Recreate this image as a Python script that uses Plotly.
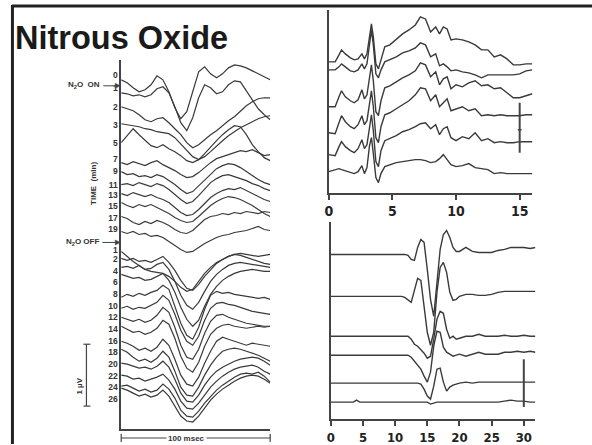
import plotly.graph_objects as go

# ---------------- DATA ----------------
# Left panel: cortical evoked potentials, 0-100 msec, amplitudes (arb. units, 1 uV ~ 62)
left_time = [0, 4, 8, 12, 16, 20, 24, 28, 32, 36, 40, 44, 48, 52, 56, 60, 64, 68, 72, 76, 80, 84, 88, 92, 96, 100]
left_labels = ["0", "1", "2", "3", "5", "7", "9", "11", "13", "15", "17", "19",
               "1", "2", "4", "6", "8", "10", "12", "14", "16", "18", "20", "22", "24", "26"]

on_0 = [0, -3, -8, -12, -10, -5, 4, 0, -12, -28, -39, -32, -12, 8, 13, 6, 2, 6, 12, 15, 14, 12, 9, 6, 3, 0]
on_1 = [0, -1, -3, -2, -4, -2, 4, 6, 0, -14, -30, -38, -25, -5, 8, 5, -1, 1, 8, 12, 11, 2, -8, -16, -22, -27]
on_2 = [0, -2, -4, -8, -13, -15, -12, -11, -16, -22, -28, -36, -41, -38, -33, -28, -24, -19, -14, -10, -4, 1, 5, 8, 9, 9]
on_3 = [0, -1, -2, -3, -5, -6, -8, -9, -10, -14, -20, -27, -33, -36, -33, -28, -22, -17, -12, -8, -4, -1, 2, 5, 7, 8]
on_5 = [0, 7, 14, 8, 2, -3, -5, -2, -6, -9, -13, -18, -20, -17, -11, -4, 2, 8, 13, 17, 16, 8, -2, -9, -15, -18]
on_7 = [0, -2, 1, -1, -3, 0, 2, -2, -5, -8, -12, -15, -14, -10, -5, 0, 4, 6, 8, 10, 12, 11, 13, 10, 7, 8]
on_9 = [0, -3, -2, -5, -4, -6, -3, -5, -9, -13, -18, -22, -20, -14, -8, -2, 3, 6, 8, 7, 4, 0, -4, -8, -11, -13]
on_11 = [0, 1, -1, 2, 0, -2, 1, -1, -5, -10, -15, -19, -17, -11, -4, 2, 6, 9, 10, 8, 6, 4, 1, -1, -4, -6]
on_13 = [0, -2, 1, -1, -3, -1, -4, -6, -9, -14, -19, -22, -21, -16, -10, -4, 0, 3, 5, 4, 6, 3, 0, -3, -6, -8]
on_15 = [0, -3, -5, -2, -4, -2, -5, -8, -11, -15, -18, -20, -19, -14, -8, -3, 1, 4, 6, 5, 3, 0, -3, -7, -11, -14]
on_17 = [0, -2, -6, -8, -5, -7, -4, -6, -9, -13, -16, -17, -14, -8, -3, 0, 1, 3, 2, 4, 3, 5, 4, 3, 5, 4]
on_19 = [0, -2, 0, -3, -2, -5, -4, -6, -10, -14, -18, -21, -20, -16, -12, -9, -6, -4, -3, -1, 0, 1, 3, 5, 2, 1]

off_1 = [0, -5, -10, -14, -18, -20, -21, -22, -25, -30, -36, -40, -38, -30, -22, -16, -11, -8, -5, -3, -2, -3, -4, -5, -4, -3]
off_2 = [0, -2, 0, -3, -2, -4, -1, 2, -4, -12, -22, -30, -32, -26, -18, -11, -5, -1, 2, 4, 3, 1, -1, -3, -5, -6]
off_4 = [0, 1, -1, 2, -2, -1, 3, 5, -2, -14, -28, -38, -42, -35, -24, -14, -7, -2, 2, 4, 5, 4, 3, 2, 1, 0]
off_6 = [0, -2, -4, -3, -6, -5, -2, 1, -6, -18, -33, -45, -52, -46, -32, -20, -12, -6, -2, 1, 3, 4, 5, 4, 3, 3]
off_8 = [0, 3, 1, 4, 2, 5, 7, 12, 8, -8, -26, -38, -42, -30, -12, 2, 6, 4, 5, 3, 2, 1, 0, -1, 0, -2]
off_10 = [0, 2, -1, 1, 0, 3, 6, 13, 8, -6, -22, -33, -37, -28, -12, 0, 5, 6, 4, 3, 1, -1, -3, -4, -5, -6]
off_12 = [0, -2, -4, -2, -5, -3, 2, 10, 5, -10, -28, -40, -42, -32, -16, -4, 2, 3, 0, -2, -4, -6, -7, -8, -9, -9]
off_14 = [0, -3, -6, -5, -8, -6, -2, 6, 2, -12, -30, -42, -46, -36, -20, -8, -2, 1, 2, 0, -1, -2, -1, 0, -1, 0]
off_16 = [0, -2, -5, -9, -7, -10, -6, 2, -4, -18, -34, -43, -45, -36, -22, -10, 0, 4, 2, 0, -2, -4, -2, -3, -4, -5]
off_18 = [0, -3, -8, -12, -10, -13, -9, -2, -8, -22, -38, -46, -47, -38, -26, -16, -8, -2, 0, 1, 0, -2, -4, -6, -9, -12]
off_20 = [0, -1, -3, -5, -4, -6, -3, 2, -4, -16, -30, -38, -39, -32, -22, -14, -8, -4, -1, 2, 4, 5, 6, 5, 2, -2]
off_22 = [0, -1, -4, -3, -6, -4, -2, 1, -5, -14, -26, -33, -34, -28, -20, -12, -6, -1, 3, 6, 8, 9, 10, 8, 4, 1]
off_24 = [0, 1, -2, -5, -3, -6, -4, 2, -3, -12, -24, -30, -31, -25, -17, -10, -4, 1, 5, 9, 12, 13, 12, 14, 10, 4]
off_26 = [0, -2, -5, -8, -6, -9, -7, -2, -8, -18, -28, -33, -34, -28, -20, -12, -6, -1, 3, 7, 10, 12, 13, 12, 9, 5]

# stacking offsets of each sweep (same units)
left_offsets = [350, 337, 323, 306, 287, 267, 258, 245, 236, 227, 213, 198,
                178, 171, 162, 155, 132, 121, 112, 103, 88, 80, 66, 54, 43, 41]
left_label_pos = [355, 342, 323, 305, 287, 271, 259, 245, 235, 224, 211, 200,
                  179, 170, 158, 147, 135, 123, 112, 100, 88, 77, 65, 53, 42, 30]

# Top right: brainstem responses, 0-16 msec
tr_time = [0, 0.5, 0.8, 1.0, 1.3, 1.7, 2.0, 2.3, 2.6, 2.8, 3.0, 3.2, 3.35, 3.5, 3.7, 3.9, 4.1, 4.4, 4.8,
           5.3, 5.8, 6.3, 6.8, 7.2, 7.6, 8.0, 8.4, 8.7, 9.0, 9.3, 9.6, 10.0, 10.5, 11.0, 11.5, 12.0,
           12.5, 13.0, 13.5, 14.0, 14.5, 15.0, 15.5, 16.0]
tr_a = [0, 0, 7, 12, 8, 4, 2, 3, 8, 3, 8, 28, 38, 25, -2, -7, 3, 15, 17, 23, 28, 32, 37, 45, 43, 30, 35, 28, 35, 33, 22, 23, 22, 20, 17, 12, 12, 5, 7, 3, -3, -3, -2, -2]
tr_b = [0, 0, 3, 6, 3, -1, -2, 0, 6, 1, 6, 28, 40, 25, -4, -8, 0, 8, 10, 13, 17, 19, 22, 27, 25, 13, 16, 4, 6, 3, -1, 0, -2, -3, -5, -8, -5, -5, -5, -5, -5, -4, -1, 0]
tr_c = [0, 0, 10, 16, 10, 6, 4, 7, 17, 8, 12, 32, 42, 26, -5, -9, 6, 19, 21, 25, 29, 32, 36, 44, 42, 30, 35, 22, 28, 30, 18, 22, 20, 24, 26, 21, 22, 18, 19, 14, 9, 9, 11, 13]
tr_d = [0, -1, 10, 17, 11, 6, 4, 8, 17, 8, 12, 32, 42, 26, -5, -10, 6, 18, 20, 24, 28, 32, 38, 45, 44, 32, 38, 26, 30, 34, 22, 24, 26, 22, 24, 17, 18, 17, 18, 17, 17, 17, 18, 18]
tr_e = [0, -1, 8, 13, 8, 4, 2, 6, 15, 6, 10, 30, 40, 24, -7, -12, 4, 14, 16, 19, 23, 25, 28, 31, 32, 26, 30, 20, 26, 28, 17, 14, 18, 16, 22, 14, 16, 12, 13, 12, 12, 13, 13, 13]
tr_f = [0, 2, 3, 2, 1, -1, -2, 0, 6, -2, 4, 26, 34, 18, -6, -11, -2, 5, 7, 9, 10, 11, 12, 12, 11, 9, 10, 13, 17, 12, 7, 5, 6, 8, 4, 3, 2, -2, -1, -2, -2, -2, -2, -2]
tr_offsets = [131, 123, 86, 60, 38, 21]
tr_ticks = [0, 5, 10, 15]

# Bottom right: responses, 0-32 msec
br_time = [0, 2, 3.5, 4, 4.5, 6, 8, 10, 11, 11.5, 12, 12.5, 13, 13.5, 14, 14.5, 15, 15.5, 16, 16.5,
           17, 17.5, 18, 18.5, 19, 19.5, 20, 21, 22, 23, 24, 25, 26, 27, 28, 29, 30, 31, 31.8]
br_1 = [0, 0, 0, 0, 0, 0, 0, 0, 0, 0, -1, -5, -6, 7, 15, 12, -15, -45, -62, -32, 5, 20, 24, 17, 7, 3, 3, 7, 3, 2, 2, 2, 4, 5, 7, 7, 7, 6, 7]
br_2 = [0, 0, 0, 0, 0, 0, 0, 0, 0, -1, -4, -6, 6, 18, 16, -9, -36, -49, -36, 4, 29, 34, 24, 4, -4, -3, 0, 2, 2, 1, 1, 2, 4, 5, 5, 5, 5, 5, 5]
br_3 = [0, 0, 0, 0, 0, 0, 0, 0, 0, 0, 0, -3, -8, -10, -13, -17, -22, -20, -3, 17, 25, 23, 7, -2, 0, -3, -2, 0, 0, 2, 0, 0, 0, 1, 0, 0, 1, 0, 0]
br_4 = [0, 0, 0, 0, 0, 0, 0, 0, 0, 0, 0, -2, -6, -9, -14, -21, -27, -17, 9, 24, 23, 8, 3, 1, -1, 0, 1, -1, 1, 3, 1, 1, 1, 3, 3, 4, 3, 4, 3]
br_5 = [0, 0, 0, 0, 0, 0, 0, 0, 0, 0, 0, 0, 0, 0, -1, -6, -13, -16, -3, 14, 15, 1, -8, -4, -2, -1, 0, 1, 0, 1, 1, 1, 1, 1, 1, 1, 1, 1, 1]
br_6 = [0, 0, 0, 2, 0, 0, 0, 0, 0, 0, 0, 0, 0, 0, 0, 0, 0, -2, -1, 0, 0, 0, 0, 0, 0, 0, 0, 0, 0, 0, 0, 0, 0, 1, 2, 1, 1, 0, 0]
br_offsets = [165, 123, 83, 64, 36, 17]
br_ticks = [0, 5, 10, 15, 20, 25, 30]

left_traces = [on_0, on_1, on_2, on_3, on_5, on_7, on_9, on_11, on_13, on_15, on_17, on_19,
               off_1, off_2, off_4, off_6, off_8, off_10, off_12, off_14, off_16, off_18,
               off_20, off_22, off_24, off_26]
tr_traces = [tr_a, tr_b, tr_c, tr_d, tr_e, tr_f]
br_traces = [br_1, br_2, br_3, br_4, br_5, br_6]

# ---------------- FIGURE ----------------
W, H = 592, 445
INK = "#3a3a3a"
AX = "#444444"


def fx(p):
    return p / W


def fy(p):
    return 1 - p / H


fig = go.Figure()
for amp, off in zip(left_traces, left_offsets):
    fig.add_trace(go.Scatter(x=left_time, y=[off + a for a in amp], mode="lines",
                             line=dict(color=INK, width=1.2), xaxis="x", yaxis="y",
                             hoverinfo="skip", showlegend=False))
for amp, off in zip(tr_traces, tr_offsets):
    fig.add_trace(go.Scatter(x=tr_time, y=[off + a for a in amp], mode="lines",
                             line=dict(color=INK, width=1.4), xaxis="x2", yaxis="y2",
                             hoverinfo="skip", showlegend=False))
for amp, off in zip(br_traces, br_offsets):
    fig.add_trace(go.Scatter(x=br_time, y=[off + a for a in amp], mode="lines",
                             line=dict(color=INK, width=1.4), xaxis="x3", yaxis="y3",
                             hoverinfo="skip", showlegend=False))

tickfont_r = dict(family="DejaVu Sans Condensed, Liberation Sans Narrow, Liberation Sans",
                  size=14, color="#222222", weight="bold")
common = dict(showgrid=False, zeroline=False)

fig.update_layout(
    width=W, height=H, margin=dict(l=0, r=0, t=0, b=0),
    paper_bgcolor="white", plot_bgcolor="white",
    xaxis=dict(domain=[fx(118), fx(268)], range=[0, 100], anchor="y", showline=True,
               linecolor=AX, linewidth=1.5, showticklabels=False, ticks="", **common),
    yaxis=dict(domain=[fy(430), fy(60)], range=[0, 370], anchor="x", showline=True,
               linecolor=AX, linewidth=1.5, ticks="", tickvals=left_label_pos,
               ticktext=left_labels,
               tickfont=dict(family="Liberation Sans", size=8.5, color="#333333", weight="bold"),
               **common),
    xaxis2=dict(domain=[fx(327), fx(532)], range=[0, 16], anchor="y2", showline=True,
                linecolor=AX, linewidth=2, ticks="outside", ticklen=5, tickwidth=1.5,
                tickcolor=AX, tickvals=tr_ticks, tickfont=tickfont_r, **common),
    yaxis2=dict(domain=[fy(193), fy(10)], range=[0, 183], anchor="x2", showline=True,
                linecolor=AX, linewidth=2, showticklabels=False, ticks="", **common),
    xaxis3=dict(domain=[fx(329), fx(535)], range=[0, 31.8], anchor="y3", showline=True,
                linecolor=AX, linewidth=2, ticks="outside", ticklen=5, tickwidth=1.5,
                tickcolor=AX, tickvals=br_ticks,
                tickfont=dict(tickfont_r, size=13), **common),
    yaxis3=dict(domain=[fy(420), fy(223)], range=[0, 197], anchor="x3", showline=True,
                linecolor=AX, linewidth=2, showticklabels=False, ticks="", **common),
)


def arrow_shapes(x_tail, x_head, y):
    return [
        dict(type="line", xref="paper", yref="paper", x0=fx(x_tail), x1=fx(x_head - 3),
             y0=fy(y), y1=fy(y), line=dict(color=AX, width=1)),
        dict(type="path", xref="paper", yref="paper",
             path=f"M {fx(x_head)} {fy(y)} L {fx(x_head - 5)} {fy(y - 2.5)} L {fx(x_head - 5)} {fy(y + 2.5)} Z",
             fillcolor=AX, line=dict(color=AX, width=0.5)),
    ]


shapes = [
    # slide frame
    dict(type="line", xref="paper", yref="paper", x0=fx(8), x1=1, y0=fy(6), y1=fy(6),
         line=dict(color="#222222", width=3)),
    dict(type="line", xref="paper", yref="paper", x0=fx(8.5), x1=fx(8.5), y0=0, y1=fy(5),
         line=dict(color="#222222", width=3)),
    # 1 uV calibration bar (left)
    dict(type="line", xref="paper", yref="paper", x0=fx(83), x1=fx(83), y0=fy(345), y1=fy(407),
         line=dict(color=AX, width=1.2)),
    dict(type="line", xref="paper", yref="paper", x0=fx(80), x1=fx(87), y0=fy(345), y1=fy(345),
         line=dict(color=AX, width=1.2)),
    dict(type="line", xref="paper", yref="paper", x0=fx(80), x1=fx(87), y0=fy(407), y1=fy(407),
         line=dict(color=AX, width=1.2)),
    # 100 msec bar
    dict(type="line", xref="paper", yref="paper", x0=fx(118), x1=fx(268), y0=fy(439), y1=fy(439),
         line=dict(color=AX, width=1.2)),
    dict(type="line", xref="paper", yref="paper", x0=fx(118), x1=fx(118), y0=fy(435), y1=fy(443),
         line=dict(color=AX, width=1.2)),
    dict(type="line", xref="paper", yref="paper", x0=fx(268), x1=fx(268), y0=fy(435), y1=fy(443),
         line=dict(color=AX, width=1.2)),
    # calibration bars on right panels
    dict(type="line", xref="x2", yref="y2", x0=15, x1=15, y0=40, y1=90,
         line=dict(color=AX, width=2)),
    dict(type="line", xref="x2", yref="y2", x0=14.85, x1=15.15, y0=63, y1=63,
         line=dict(color=AX, width=1.5)),
    dict(type="line", xref="x3", yref="y3", x0=30, x1=30, y0=12, y1=60,
         line=dict(color=AX, width=2)),
] + arrow_shapes(100, 117, 86) + arrow_shapes(99, 117, 243)
fig.update_layout(shapes=shapes)

small = dict(family="Liberation Sans", size=8, color="#333333", weight="bold")
annotations = [
    dict(text="<b>Nitrous Oxide</b>", xref="paper", yref="paper", x=fx(9), y=fy(38.5),
         xanchor="left", yanchor="middle", showarrow=False,
         font=dict(family="Liberation Sans", size=32.5, color="#1a1a1a")),
    dict(text="N<sub>2</sub>O  ON", xref="paper", yref="paper", x=fx(99), y=fy(85),
         xanchor="right", yanchor="middle", showarrow=False, font=small),
    dict(text="N<sub>2</sub>O OFF", xref="paper", yref="paper", x=fx(98), y=fy(243),
         xanchor="right", yanchor="middle", showarrow=False, font=small),
    dict(text="TIME  (min)", xref="paper", yref="paper", x=fx(90), y=fy(184),
         xanchor="center", yanchor="middle", textangle=-90, showarrow=False, font=small),
    dict(text="1 µV", xref="paper", yref="paper", x=fx(76), y=fy(387),
         xanchor="center", yanchor="middle", textangle=-90, showarrow=False, font=small),
    dict(text="100 msec", xref="paper", yref="paper", x=fx(184), y=fy(439),
         xanchor="center", yanchor="middle", showarrow=False, bgcolor="white", font=small),
]
fig.update_layout(annotations=annotations)

fig.write_html("out.html", config={"displayModeBar": False},
               post_script="document.body.style.margin='0';document.body.style.overflow='hidden';")
